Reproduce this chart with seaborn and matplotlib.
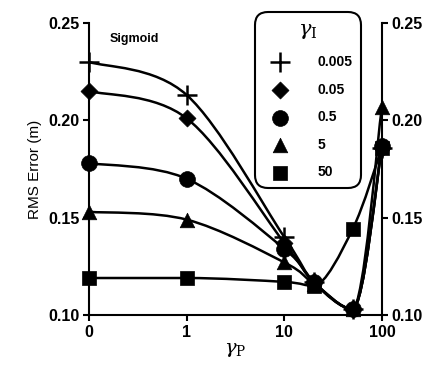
import numpy as np
import pandas as pd
import matplotlib
matplotlib.use("Agg")
import matplotlib.pyplot as plt
import seaborn as sns
from matplotlib.path import Path
from matplotlib.patches import PathPatch

# ---- data ----
gamma_p = [0, 1, 10, 20, 50, 100]
gamma_i_labels = ["0.005", "0.05", "0.5", "5", "50"]
rms_0005 = [0.230, 0.213, 0.140, 0.117, 0.103, 0.186]
rms_005 = [0.215, 0.201, 0.137, 0.117, 0.103, 0.186]
rms_05 = [0.178, 0.170, 0.134, 0.117, 0.103, 0.187]
rms_5 = [0.153, 0.149, 0.127, 0.116, 0.103, 0.207]
rms_50 = [0.119, 0.119, 0.117, 0.115, 0.144, 0.186]
x_ticks = [0, 1, 10, 100]
x_ticklabels = ["0", "1", "10", "100"]
y_ticks = [0.10, 0.15, 0.20, 0.25]
y_ticklabels = ["0.10", "0.15", "0.20", "0.25"]

series = [rms_0005, rms_005, rms_05, rms_5, rms_50]
marker_list = ["+", "D", "o", "^", "s"]
size_list = [190, 75, 130, 110, 110]

sns.set_theme(style="ticks")
plt.rcParams["font.family"] = ["Liberation Sans", "DejaVu Sans"]
plt.rcParams["mathtext.fontset"] = "dejavuserif"
plt.rcParams["text.color"] = "black"
plt.rcParams["axes.labelcolor"] = "black"

fig = plt.figure(figsize=(4.39, 3.65), dpi=100)
ax = fig.add_axes([0.203, 0.137, 0.667, 0.800])


def fwd(x):
    x = np.asarray(x, float)
    return np.where(x <= 1, x, np.log10(np.maximum(x, 1)) + 1)


def inv(y):
    y = np.asarray(y, float)
    return np.where(y <= 1, y, 10 ** (y - 1))


ax.set_xscale("function", functions=(fwd, inv))
ax.set_xlim(0, 100)
ax.set_ylim(0.10, 0.25)

# smooth connecting curves (Bezier segments through the data points)
for vals in series:
    px = fwd(gamma_p)
    py = np.asarray(vals, float)
    n = len(px)
    tx = np.zeros(n)
    ty = np.zeros(n)
    for i in range(n):
        i0 = max(i - 1, 0)
        i1 = min(i + 1, n - 1)
        tx[i] = px[i1] - px[i0]
        ty[i] = py[i1] - py[i0]
        if 0 < i < n - 1 and (py[i] - py[i - 1]) * (py[i + 1] - py[i]) <= 0:
            ty[i] = 0.0
    verts = [(gamma_p[0], py[0])]
    codes = [Path.MOVETO]
    for i in range(n - 1):
        c1x = px[i] + tx[i] / 6
        c1y = py[i] + ty[i] / 6
        c2x = px[i + 1] - tx[i + 1] / 6
        c2y = py[i + 1] - ty[i + 1] / 6
        verts += [(float(inv(c1x)), c1y), (float(inv(c2x)), c2y),
                  (gamma_p[i + 1], py[i + 1])]
        codes += [Path.CURVE4] * 3
    ax.add_patch(PathPatch(Path(verts, codes), fill=False, lw=1.8,
                           edgecolor="black", transform=ax.transData))

for lab, vals, mk, sz in zip(gamma_i_labels, series, marker_list, size_list):
    d = pd.DataFrame({"gamma_p": gamma_p, "rms": vals})
    if mk == "+":
        sns.scatterplot(data=d, x="gamma_p", y="rms", marker=mk, color="black",
                        s=sz, linewidth=1.8, ax=ax, clip_on=False, zorder=5,
                        label=lab)
    else:
        sns.scatterplot(data=d, x="gamma_p", y="rms", marker=mk, color="black",
                        s=sz, linewidth=0.5, edgecolor="black", ax=ax,
                        clip_on=False, zorder=5, label=lab)

handles, labels = ax.get_legend_handles_labels()
if ax.get_legend() is not None:
    ax.get_legend().remove()
leg = fig.legend(handles, labels, title=r"$\gamma_\mathrm{I}$", loc="upper left",
                 bbox_to_anchor=(0.581, 0.967), frameon=True, fancybox=True,
                 fontsize=10, title_fontsize=15, labelspacing=0.98,
                 handlelength=2.4, handletextpad=1.5, borderpad=0.6,
                 borderaxespad=0, framealpha=1)
leg.get_frame().set_edgecolor("black")
leg.get_frame().set_linewidth(1.5)
leg.get_frame().set_boxstyle("round,pad=0,rounding_size=0.9")
for t in leg.get_texts():
    t.set_fontweight("bold")

ax.set_xticks(x_ticks)
ax.set_xticklabels(x_ticklabels)
ax.set_yticks(y_ticks)
ax.set_yticklabels(y_ticklabels)
ax.xaxis.set_minor_locator(matplotlib.ticker.NullLocator())
ax.set_xlabel(r"$\gamma_\mathrm{P}$", fontsize=14, labelpad=1)
ax.set_ylabel("RMS Error (m)", fontsize=11, labelpad=4)
for s in ["top", "right"]:
    ax.spines[s].set_visible(False)
for s in ["left", "bottom"]:
    ax.spines[s].set_linewidth(1.5)
    ax.spines[s].set_color("black")
ax.tick_params(axis="both", direction="out", length=4, width=1.5,
               labelsize=11.5, colors="black", pad=3)
for t in ax.get_xticklabels() + ax.get_yticklabels():
    t.set_fontweight("bold")

ax2 = ax.twinx()
ax2.set_ylim(0.10, 0.25)
ax2.set_yticks(y_ticks)
ax2.set_yticklabels(y_ticklabels)
for s in ["top", "left", "bottom"]:
    ax2.spines[s].set_visible(False)
ax2.spines["right"].set_linewidth(1.5)
ax2.spines["right"].set_color("black")
ax2.tick_params(axis="y", direction="out", length=4, width=1.5,
                labelsize=11.5, colors="black", pad=3)
for t in ax2.get_yticklabels():
    t.set_fontweight("bold")

ax.text(0.07, 0.945, "Sigmoid", transform=ax.transAxes, fontsize=9,
        fontweight="bold", ha="left", va="center")

fig.savefig("out.png", dpi=100)
